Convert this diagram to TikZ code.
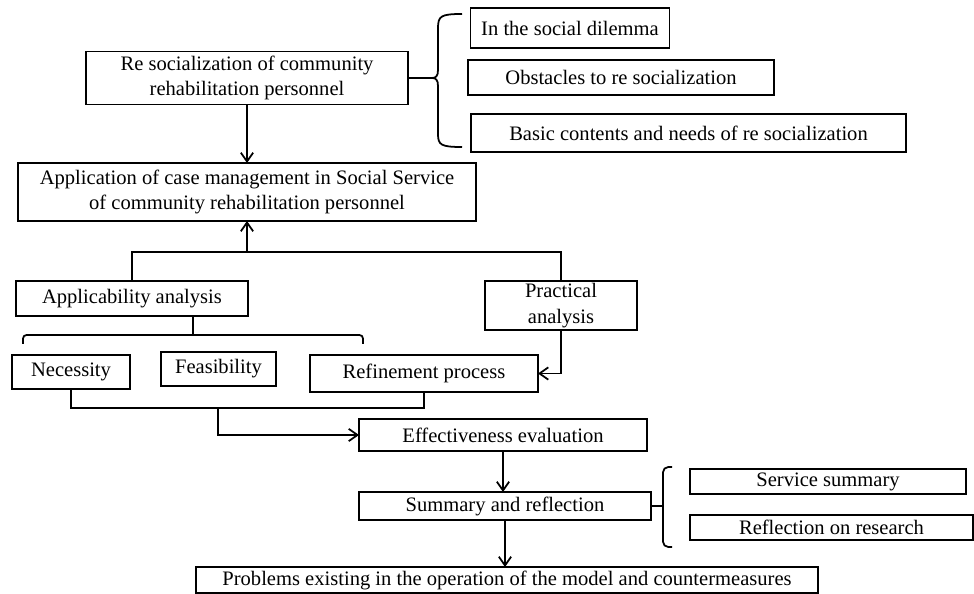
\documentclass[tikz,border=0pt]{standalone}
\usepackage{fontspec}
\setmainfont{Liberation Serif}
\usetikzlibrary{arrows.meta}

\begin{document}
\begin{tikzpicture}[x=0.02cm, y=-0.02cm, line width=1pt, >={Straight Barb[length=5pt,width=7pt]},
	every node/.style={font=\fontsize{11.7}{14.4}\selectfont, outer sep=0pt},
	box/.style={draw, inner xsep=2pt, inner ysep=1pt, align=center}]
	\useasboundingbox (0,0) rectangle (974,594);

	% upper part
	\node[box, minimum width=6.44cm, minimum height=1.06cm] (resoc) at (247,78) {Re socialization of community\\rehabilitation personnel};
	\node[box, minimum width=9.16cm, minimum height=1.16cm] (app) at (247,192) {Application of case management in Social Service\\of community rehabilitation personnel};
	\node[box, minimum width=3.98cm, minimum height=0.8cm] (dilemma) at (570,28) {In the social dilemma};
	\node[box, minimum width=6.12cm, minimum height=0.7cm] (obstacle) at (621,77.5) {Obstacles to re socialization};
	\node[box, minimum width=8.7cm, minimum height=0.76cm] (basic) at (688.5,133) {Basic contents and needs of re socialization};

	% brace on the right of resoc
	\coordinate (tipA) at (432,78);
	\draw (462,14) .. controls (441,14) and (438,16) .. (438,28) -- (438,70) .. controls (438,76) and (436,78) .. (tipA)
		.. controls (436,78) and (438,80) .. (438,86) -- (438,134) .. controls (438,145) and (441,147) .. (462,147);
	\draw (resoc.east) -- (tipA);
	\draw[->] (resoc) -- (app);

	% analysis
	\node[box, minimum width=4.64cm, minimum height=0.7cm] (applic) at (132,298.5) {Applicability analysis};
	\node[box, minimum width=3.04cm, minimum height=0.98cm] (practical) at (561,305.5) {Practical\\analysis};
	\coordinate (join) at (247,252);
	\draw (applic.north) |- (join) -| (practical.north);
	\draw[->] (join) -- (app.south);

	\node[box, minimum width=2.36cm, minimum height=0.68cm] (necess) at (71,372) {Necessity};
	\node[box, minimum width=2.3cm, minimum height=0.68cm] (feasib) at (218.5,369) {Feasibility};
	\node[box, minimum width=4.56cm, minimum height=0.74cm] (refine) at (424,373.5) {Refinement process};

	% bracket under applic
	\coordinate (stem) at (193,335);
	\draw (stem) -- (stem |- applic.south);
	\draw[rounded corners=2pt] (23,344) -- (23,335) -- (363,335) -- (363,344);
	\draw[->] (practical.south) |- (refine.east);

	% lower part
	\node[box, minimum width=5.76cm, minimum height=0.64cm] (effect) at (503,435) {Effectiveness evaluation};
	\node[box, minimum width=5.84cm, minimum height=0.56cm] (summary) at (505,506) {Summary and reflection};
	\node[box, minimum width=5.52cm, minimum height=0.5cm] (service) at (828,481.5) {Service summary};
	\node[box, minimum width=5.66cm, minimum height=0.5cm] (reflect) at (831.5,527.5) {Reflection on research};
	\node[box, minimum width=12.44cm, minimum height=0.52cm] (problem) at (507,580) {Problems existing in the operation of the model and countermeasures};

	\coordinate (base) at (218,408);
	\draw (necess.south) |- (base) -| (refine.south);
	\draw[->] (base) |- (effect.west);
	\draw[->] (effect.south) -- (effect.south |- summary.north);
	\draw[->] (summary.south) -- (summary.south |- problem.north);

	% brace on the right of summary
	\coordinate (tipB) at (663,506);
	\draw[rounded corners=3pt] (672,467) -- (663,467) -- (663,547) -- (672,547);
	\draw (summary.east) -- (tipB);
\end{tikzpicture}
\end{document}
